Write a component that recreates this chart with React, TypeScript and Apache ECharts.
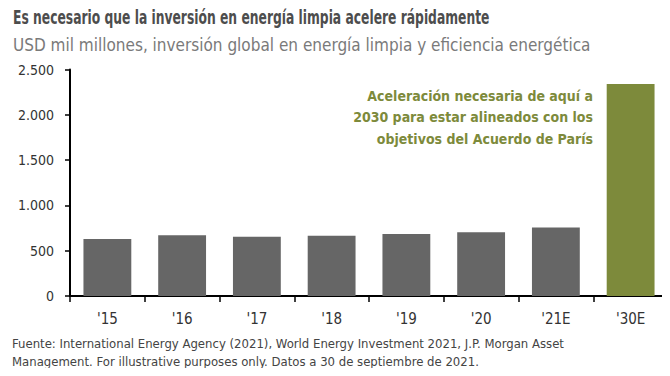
import React, { useEffect, useRef } from "react";
import * as echarts from "echarts";

const categories = ["'15", "'16", "'17", "'18", "'19", "'20", "'21E", "'30E"];
const values = [630, 670, 655, 665, 685, 705, 755, 2340];
const yTicks = [0, 500, 1000, 1500, 2000, 2500];

const FONT = "'DejaVu Sans Condensed', 'Liberation Sans Narrow', sans-serif";

export default function App() {
  const ref = useRef<HTMLDivElement>(null);
  useEffect(() => {
    const chart = echarts.init(ref.current!, null, { renderer: "svg" });
    chart.setOption({
      animation: false,
      backgroundColor: "#ffffff",
      textStyle: { fontFamily: FONT },
      grid: { left: 70, right: 2, top: 69.5, bottom: 80, containLabel: false },
      xAxis: {
        type: "category",
        data: categories,
        axisLine: { lineStyle: { color: "#000", width: 2 } },
        axisTick: { show: true, length: 6, lineStyle: { color: "#000", width: 1.5 } },
        axisLabel: { color: "#333", fontSize: 15, margin: 15, fontFamily: FONT },
      },
      yAxis: {
        type: "value",
        min: 0,
        max: 2500,
        interval: 500,
        axisLine: { show: true, lineStyle: { color: "#000", width: 2 } },
        axisTick: { show: true, length: 5, lineStyle: { color: "#000", width: 1.5 } },
        splitLine: { show: false },
        axisLabel: {
          color: "#333",
          fontSize: 14,
          margin: 16,
          fontFamily: FONT,
          formatter: (v: number) => (yTicks.includes(v) ? v.toLocaleString("de-DE") : ""),
        },
      },
      series: [
        {
          type: "bar",
          barWidth: "64%",
          data: values.map((v, i) => ({
            value: v,
            itemStyle: { color: i === values.length - 1 ? "#7d8a3b" : "#666666" },
          })),
        },
      ],
      graphic: [
        {
          type: "text",
          x: 13,
          y: 7,
          scaleX: 0.685,
          style: {
            text: "Es necesario que la inversión en energía limpia acelere rápidamente",
            font: `bold 20px ${FONT}`,
            fill: "#4d4d4d",
          },
        },
        {
          type: "text",
          x: 13,
          y: 36,
          style: {
            text: "USD mil millones, inversión global en energía limpia y eficiencia energética",
            font: `17px ${FONT}`,
            fill: "#7a7a7a",
          },
        },
        {
          type: "text",
          x: 593,
          y: 85,
          style: {
            text: "Aceleración necesaria de aquí a\n2030 para estar alineados con los\nobjetivos del Acuerdo de París",
            font: `bold 14px ${FONT}`,
            fill: "#7d8a3b",
            align: "right",
            verticalAlign: "top",
            lineHeight: 21.5,
          },
        },
        {
          type: "text",
          x: 12,
          y: 334,
          style: {
            text: "Fuente: International Energy Agency (2021), World Energy Investment 2021, J.P. Morgan Asset\nManagement. For illustrative purposes only. Datos a 30 de septiembre de 2021.",
            font: `13px ${FONT}`,
            fill: "#444",
            lineHeight: 18.5,
          },
        },
      ],
    });
    return () => chart.dispose();
  }, []);
  return <div ref={ref} style={{ width: 670, height: 376, margin: -8 }} />;
}
